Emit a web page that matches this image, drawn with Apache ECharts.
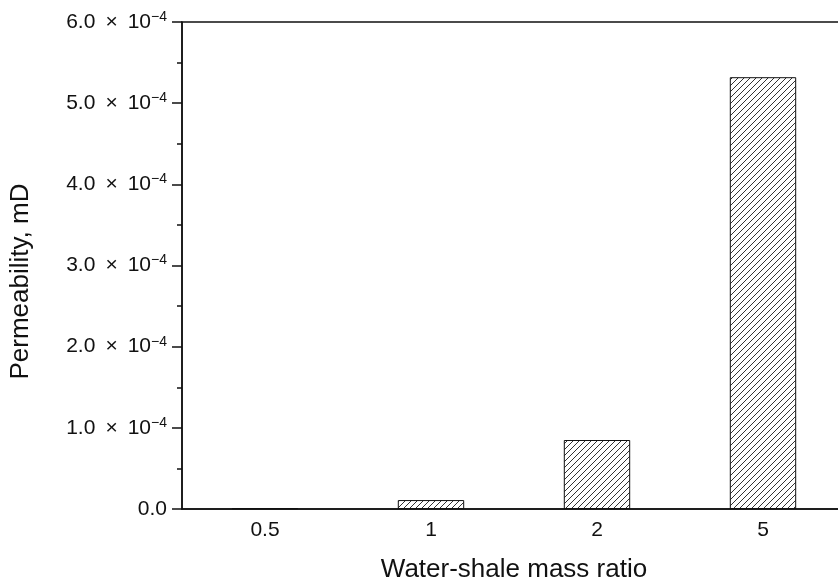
<!DOCTYPE html>
<html>
<head>
<meta charset="utf-8">
<script src="https://cdn.jsdelivr.net/npm/echarts@6/dist/echarts.min.js"></script>
<style>
  html, body { margin: 0; padding: 0; background: #fff; }
  #chart { width: 838px; height: 582px; }
</style>
</head>
<body>
<div id="chart"></div>
<script>
  // data
  var ratios = ['0.5', '1', '2', '5']
  var permeability = [0.000001, 0.000011, 0.000085, 0.000532]
  var yMantissa = ['0.0', '1.0', '2.0', '3.0', '4.0', '5.0', '6.0']
  var yExponent = '\u22124'

  // hatch fill "////"
  function makeHatch() {
    var size = 6
    var c = document.createElement('canvas')
    c.width = size
    c.height = size
    var ctx = c.getContext('2d')
    ctx.strokeStyle = '#333'
    ctx.lineWidth = 1
    ctx.beginPath()
    ctx.moveTo(0, size); ctx.lineTo(size, 0)
    ctx.moveTo(-size / 2, size / 2); ctx.lineTo(size / 2, -size / 2)
    ctx.moveTo(size / 2, size * 1.5); ctx.lineTo(size * 1.5, size / 2)
    ctx.stroke()
    return c
  }

  var font = 'Liberation Sans, Arial, sans-serif'
  var chart = echarts.init(document.getElementById('chart'))

  var option = {
    animation: false,
    backgroundColor: '#fff',
    textStyle: { fontFamily: font, color: '#111' },
    grid: {
      left: 182, top: 22, width: 664, height: 487,
      containLabel: false,
      outerBoundsMode: 'none',
      show: true, borderColor: '#111', borderWidth: 1.5
    },
    xAxis: [{
      type: 'category',
      data: ratios,
      name: 'Water-shale mass ratio',
      nameLocation: 'middle',
      nameGap: 48,
      nameTextStyle: { fontSize: 26, color: '#111' },
      axisLine: { lineStyle: { color: '#111', width: 1.5 } },
      axisTick: { inside: true, alignWithLabel: true, length: 10, lineStyle: { color: '#111', width: 1.5 } },
      axisLabel: { fontSize: 21, color: '#111', margin: 11 },
      splitLine: { show: false }
    }, {
      // boundary ticks between categories
      type: 'category',
      data: ratios,
      position: 'bottom',
      axisLine: { show: false },
      axisTick: { inside: true, length: 5, lineStyle: { color: '#111', width: 1.5 } },
      axisLabel: { show: false },
      splitLine: { show: false }
    }],
    yAxis: {
      type: 'value',
      min: 0,
      max: 0.0006,
      interval: 0.0001,
      name: 'Permeability, mD',
      nameLocation: 'middle',
      nameGap: 148,
      nameTextStyle: { fontSize: 26, color: '#111', padding: [0, 32, 0, 0] },
      axisLine: { show: true, lineStyle: { color: '#111', width: 1.5 } },
      axisTick: { show: true, length: 10, lineStyle: { color: '#111', width: 1.5 } },
      minorTick: { show: true, splitNumber: 2, length: 5, lineStyle: { color: '#111', width: 1.5 } },
      splitLine: { show: false },
      axisLabel: {
        margin: 15,
        formatter: function (v, i) {
          if (i === 0) return '{a|' + yMantissa[0] + '}'
          return '{a|' + yMantissa[i] + ' \u2009\u00d7\u2009 10}{b|' + yExponent + '}'
        },
        rich: {
          a: { fontSize: 21, color: '#111', fontFamily: font, lineHeight: 24 },
          b: { fontSize: 14, color: '#111', fontFamily: font, verticalAlign: 'top', lineHeight: 16 }
        }
      }
    },
    series: [{
      type: 'bar',
      data: permeability,
      barWidth: '40%',
      itemStyle: {
        color: { image: makeHatch(), repeat: 'repeat' },
        borderColor: '#111',
        borderWidth: 1
      }
    }]
  }

  chart.setOption(option)
</script>
</body>
</html>
